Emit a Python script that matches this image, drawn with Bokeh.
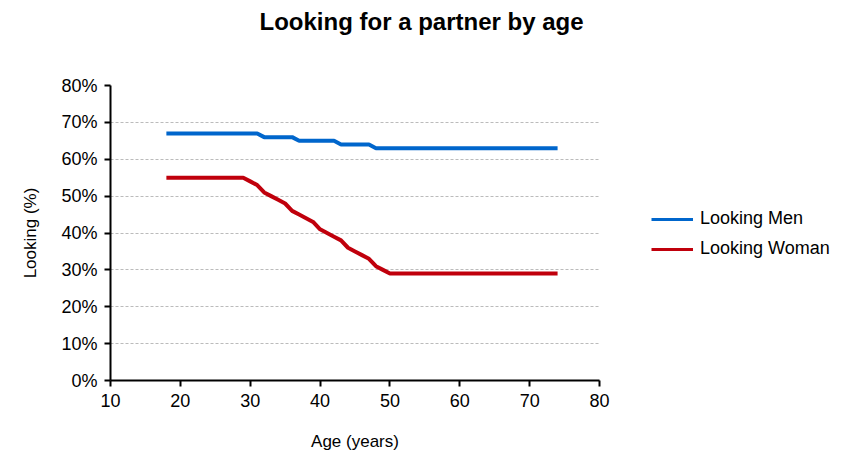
from bokeh.plotting import figure
from bokeh.models import Range1d, Legend, LegendItem, PrintfTickFormatter, FixedTicker, Title
from bokeh.layouts import row, column
from bokeh.embed import file_html
from bokeh.resources import INLINE

ages = [18, 19, 20, 21, 22, 23, 24, 25, 26, 27, 28, 29, 30, 31, 32, 33, 34, 35, 36, 37,
        38, 39, 40, 41, 42, 43, 44, 45, 46, 47, 48, 49, 50, 51, 52, 53, 54, 55, 56, 57,
        58, 59, 60, 61, 62, 63, 64, 65, 66, 67, 68, 69, 70, 71, 72, 73, 74]
looking_men = [67, 67, 67, 67, 67, 67, 67, 67, 67, 67, 67, 67, 67, 67, 66, 66, 66, 66, 66, 65,
               65, 65, 65, 65, 65, 64, 64, 64, 64, 64, 63, 63, 63, 63, 63, 63, 63, 63, 63, 63,
               63, 63, 63, 63, 63, 63, 63, 63, 63, 63, 63, 63, 63, 63, 63, 63, 63]
looking_woman = [55, 55, 55, 55, 55, 55, 55, 55, 55, 55, 55, 55, 54, 53, 51, 50, 49, 48, 46, 45,
                 44, 43, 41, 40, 39, 38, 36, 35, 34, 33, 31, 30, 29, 29, 29, 29, 29, 29, 29, 29,
                 29, 29, 29, 29, 29, 29, 29, 29, 29, 29, 29, 29, 29, 29, 29, 29, 29]
series_names = ["Looking Men", "Looking Woman"]
x_ticks = [10, 20, 30, 40, 50, 60, 70, 80]
y_ticks = [0, 10, 20, 30, 40, 50, 60, 70, 80]
chart_title = "Looking for a partner by age"

FONT = "Liberation Sans"
MEN_COLOR = "#0066CC"
WOMAN_COLOR = "#C0000C"

# title strip
pt = figure(width=842, height=45, output_backend="svg", toolbar_location=None,
            x_range=Range1d(0, 1), y_range=Range1d(0, 1),
            x_axis_location=None, y_axis_location=None, min_border=0)
pt.outline_line_color = None
pt.xgrid.grid_line_color = None
pt.ygrid.grid_line_color = None
pt.border_fill_color = "white"
pt.background_fill_color = "white"
pt.add_layout(Title(text=chart_title, align="left", offset=259, standoff=10,
                    text_font=FONT, text_font_size="24px", text_font_style="bold",
                    text_color="black"), "above")

p = figure(width=620, height=422, output_backend="svg", toolbar_location=None,
           x_range=Range1d(10, 80), y_range=Range1d(0, 80),
           min_border_left=110, min_border_right=21, min_border_top=40, min_border_bottom=87)
p.outline_line_color = None
p.background_fill_color = "white"
p.border_fill_color = "white"

p.line(ages, looking_men, line_color=MEN_COLOR, line_width=4)
p.line(ages, looking_woman, line_color=WOMAN_COLOR, line_width=4)

p.xgrid.grid_line_color = None
p.ygrid.grid_line_color = "#BBBBBB"
p.ygrid.grid_line_dash = "3 2"
p.ygrid.grid_line_width = 1

for ax in (p.xaxis[0], p.yaxis[0]):
    ax.axis_line_color = "black"
    ax.axis_line_width = 2
    ax.major_tick_line_color = "black"
    ax.major_tick_line_width = 2
    ax.major_tick_in = 0
    ax.major_tick_out = 6
    ax.minor_tick_line_color = None
    ax.major_label_text_font = FONT
    ax.major_label_text_font_size = "18px"
    ax.major_label_text_color = "black"
    ax.major_label_standoff = 7
    ax.axis_label_text_font = FONT
    ax.axis_label_text_font_size = "17px"
    ax.axis_label_text_font_style = "normal"
    ax.axis_label_text_color = "black"

p.xaxis[0].ticker = FixedTicker(ticks=x_ticks)
p.yaxis[0].ticker = FixedTicker(ticks=y_ticks)
p.yaxis[0].formatter = PrintfTickFormatter(format="%d%%")
p.xaxis[0].axis_label = "Age (years)"
p.yaxis[0].axis_label = "Looking (%)"
p.xaxis[0].axis_label_standoff = 22
p.yaxis[0].axis_label_standoff = 18

# legend panel (series drawn out of view; only their legend glyphs show)
p2 = figure(width=222, height=422, output_backend="svg", toolbar_location=None,
            x_range=Range1d(0, 1), y_range=Range1d(0, 1),
            x_axis_location=None, y_axis_location=None, min_border=0)
p2.outline_line_color = None
p2.xgrid.grid_line_color = None
p2.ygrid.grid_line_color = None
p2.border_fill_color = "white"
l_men = p2.line(ages, looking_men, line_color=MEN_COLOR, line_width=3)
l_wom = p2.line(ages, looking_woman, line_color=WOMAN_COLOR, line_width=3)

legend = Legend(items=[LegendItem(label=series_names[0], renderers=[l_men]),
                       LegendItem(label=series_names[1], renderers=[l_wom])],
                location=(31, 121), orientation="vertical",
                label_text_font=FONT, label_text_font_size="18px", label_text_color="black",
                glyph_width=42, glyph_height=20, spacing=9, padding=0, margin=0,
                label_standoff=7,
                border_line_color=None, background_fill_alpha=0)
p2.add_layout(legend, "center")

layout = column(pt, row(p, p2, spacing=0), spacing=0)
open("out.html", "w").write(file_html(layout, INLINE))
